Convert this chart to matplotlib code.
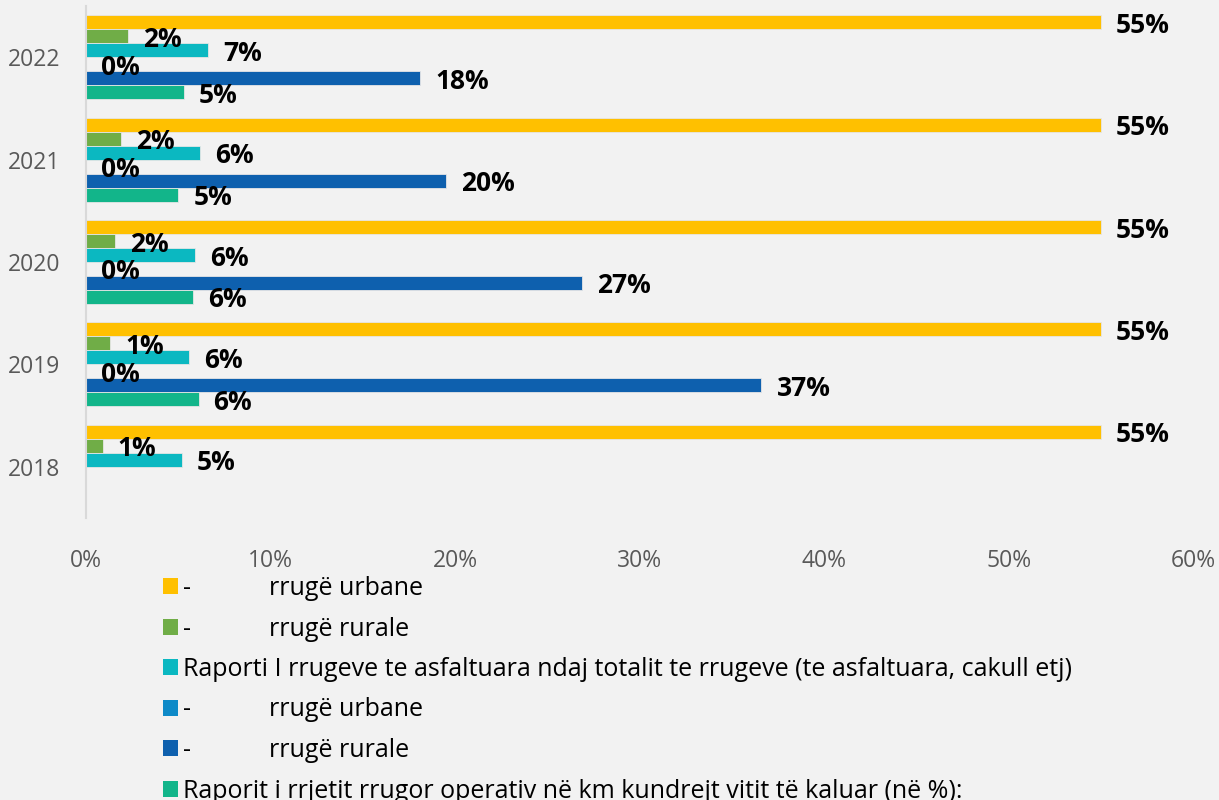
import matplotlib.pyplot as plt
import numpy as np
from matplotlib.patches import Patch

plt.rcParams['font.family'] = ['Open Sans', 'DejaVu Sans']

years = ['2018', '2019', '2020', '2021', '2022']

# values in %, order 2018..2022 (NaN = no bar)
urban_paved = [55.0, 55.0, 55.0, 55.0, 55.0]
rural_paved = [0.9, 1.3, 1.6, 1.9, 2.3]
ratio_paved = [5.2, 5.6, 5.9, 6.2, 6.6]
urban_ops = [np.nan, 0.0, 0.0, 0.0, 0.0]
rural_ops = [np.nan, 36.6, 26.9, 19.5, 18.1]
ratio_ops = [np.nan, 6.1, 5.8, 5.0, 5.3]

labels = [
    '-' + ' ' * 12 + 'rrugë urbane',
    '-' + ' ' * 12 + 'rrugë rurale',
    'Raporti I rrugeve te asfaltuara ndaj totalit te rrugeve (te asfaltuara, cakull etj)',
    '-' + ' ' * 12 + 'rrugë urbane',
    '-' + ' ' * 12 + 'rrugë rurale',
    'Raporit i rrjetit rrugor operativ në km kundrejt vitit të kaluar (në %):',
]
series = [urban_paved, rural_paved, ratio_paved, urban_ops, rural_ops, ratio_ops]
colors = ['#FFC000', '#70AD47', '#0BB8C1', '#0E8AC8', '#0E60AE', '#12B58A']

bg = '#F2F2F2'
fig = plt.figure(figsize=(12.19, 8), dpi=100, facecolor=bg)
ax = fig.add_axes([0.0705, 0.3525, 0.9085, 0.64])
ax.set_facecolor(bg)

y = np.arange(len(years))
h = 0.1367
for i, (vals, col) in enumerate(zip(series, colors)):
    pos = y + (2.5 - i) * h
    vals = np.array(vals, dtype=float)
    ax.barh(pos, vals, height=h, color=col, edgecolor='#e6e6e6', linewidth=0.6)
    for p, v in zip(pos, vals):
        if np.isnan(v):
            continue
        ax.annotate(f'{v:.0f}%', (v, p), xytext=(15, -3), textcoords='offset pixels',
                    ha='left', va='center', fontsize=19, fontweight='bold', color='black')

ax.set_xlim(0, 60)
ax.set_ylim(-0.5, 4.5)
ax.set_xticks(range(0, 61, 10))
ax.set_xticklabels([f'{t}%' for t in range(0, 61, 10)])
ax.set_yticks(y)
ax.set_yticklabels(years)
ax.tick_params(length=0, labelsize=16.5, labelcolor='#595959')
ax.tick_params(axis='x', pad=22)
ax.tick_params(axis='y', pad=18.5)
for s in ['top', 'right', 'bottom']:
    ax.spines[s].set_visible(False)
ax.spines['left'].set_color('#d9d9d9')
ax.spines['left'].set_linewidth(1.5)

handles = [Patch(facecolor=c, edgecolor='none') for c in colors]
fig.legend(handles, labels, loc='upper left', bbox_to_anchor=(0.1337, 0.28),
           frameon=False, fontsize=18, handlelength=0.62, handleheight=0.62,
           handletextpad=0.2, labelspacing=0.62, borderaxespad=0, borderpad=0)

fig.savefig('out.png', dpi=100, facecolor=bg)
